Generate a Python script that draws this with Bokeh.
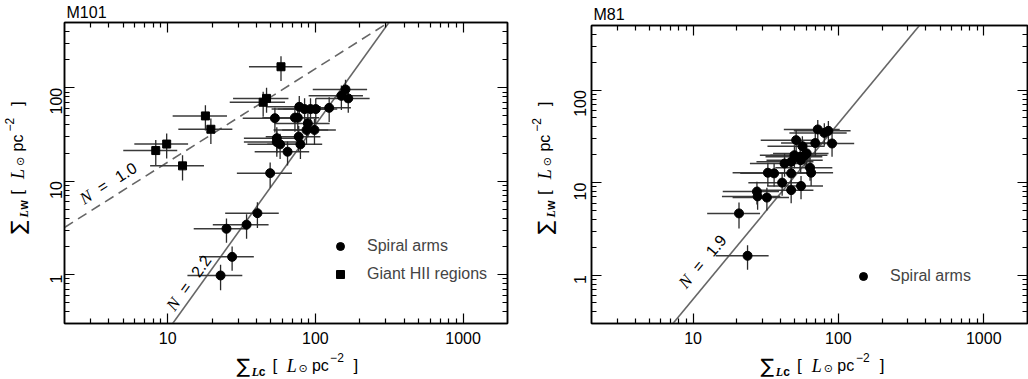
import math
from bokeh.plotting import figure
from bokeh.models import (Range1d, FixedTicker, PrintfTickFormatter, LogAxis, Label,
                          CustomJSTickFormatter, ColumnDataSource)
from bokeh.layouts import row, column
from bokeh.embed import file_html
from bokeh.resources import INLINE

# ---------------- data ----------------
X_RANGE = (2, 2000)
Y_RANGE = (0.3, 500)
X_MAJOR = [10, 100, 1000]
X_MINOR = [3, 4, 5, 6, 7, 8, 9, 20, 30, 40, 50, 60, 70, 80, 90,
           200, 300, 400, 500, 600, 700, 800, 900]
Y_MAJOR = [1, 10, 100]
Y_MINOR = [0.4, 0.5, 0.6, 0.7, 0.8, 0.9, 2, 3, 4, 5, 6, 7, 8, 9,
           20, 30, 40, 50, 60, 70, 80, 90, 200, 300, 400]

# M101 spiral arms
m101_arm_x = [160, 150, 167, 124, 100.6, 92.7, 84.5, 77.8, 72.7, 76.0, 53.2, 88.9, 98.6,
              87.1, 77.1, 54.8, 54.8, 57.7, 79.2, 64.8, 49.4, 40.5, 34.2, 25.0, 27.3, 22.8]
m101_arm_y = [96, 82, 77, 61, 59.2, 59.2, 59.2, 62.6, 47.9, 47.9, 47.3, 41.6, 35.4,
              35.4, 30.0, 28.9, 26.3, 24.8, 24.8, 20.7, 12.2, 4.55, 3.43, 3.1, 1.55, 0.98]
m101_arm_xerr = [64, 60, 66, 50, 40, 37, 34, 31, 29, 30, 21, 36, 39,
                 35, 31, 22, 22, 23, 32, 26, 20, 16, 14, 10, 11, 9.2]
m101_arm_yerr = [26, 24, 23, 18, 18, 18, 18, 19, 14, 14, 14, 12, 11,
                 11, 9, 9, 8, 7.5, 7.5, 6, 3.7, 1.4, 1.0, 0.9, 0.45, 0.3]

# M101 giant HII regions
m101_hii_x = [58.5, 46.7, 44.3, 18.0, 19.6, 9.84, 8.3, 12.6]
m101_hii_y = [168, 77, 70, 50, 36, 25, 21.3, 14.6]
m101_hii_xerr = [23, 19, 18, 7.2, 7.8, 3.9, 3.3, 5.0]
m101_hii_yerr = [50, 23, 21, 15, 11, 7.5, 6.4, 4.4]

# M81 spiral arms
m81_arm_x = [72.1, 80, 85.3, 51.2, 69.3, 90.4, 56.5, 60.5, 49.8, 54.5, 59, 42.6, 47.3, 55,
             63.8, 64.9, 47.3, 36.1, 32.7, 41, 55.3, 47.3, 27.5, 27.8, 32.2, 20.7, 23.7]
m81_arm_y = [37.6, 34.5, 36.3, 28.8, 26.8, 26.5, 24.8, 20.7, 19.8, 19.0, 19.8, 16.1, 16.8, 17.5,
             14.5, 12.8, 12.6, 12.6, 12.8, 10.0, 9.2, 8.3, 8.0, 7.1, 6.9, 4.65, 1.62]
m81_arm_xerr = [30, 34, 36, 22, 29, 38, 24, 25, 21, 23, 25, 18, 20, 23,
                27, 27, 20, 15, 14, 17, 23, 20, 11.5, 12, 13.5, 8.2, 9.4]
m81_arm_yerr = [10, 9.5, 10, 8, 7.5, 7.5, 7, 6, 5.5, 5.3, 5.5, 4.5, 4.7, 4.9,
                4, 3.6, 3.5, 3.5, 3.6, 2.8, 2.6, 2.3, 2.2, 2, 1.9, 1.45, 0.48]

# power-law fits  Sigma_W = 10**logA * Sigma_C**N
M101_ARM_FIT = (2.2, -2.797)
M101_HII_FIT = (1.0, 0.204)
M81_ARM_FIT = (1.9, -2.16)

FONT = "Liberation Sans"
TOTAL_H = 379


def axis_pieces(sub):
    # (text, offset along label, offset above baseline, font, size, style)
    return [
        ("\u2211", -1, 0, "DejaVu Sans", "20px", "normal"),
        ("L", 15.6, -6, "Liberation Serif", "12px", "bold italic"),
        (sub, 23.5, -6, FONT, "12px", "bold"),
        ("[", 38.3, 0, FONT, "17px", "normal"),
        ("L", 54, 0, "Liberation Serif", "18px", "italic"),
        ("\u2299", 67, -3, "DejaVu Sans", "11px", "normal"),
        ("pc", 81.6, 0, FONT, "16px", "normal"),
        ("\u22122", 101.5, 8, FONT, "12px", "normal"),
        ("]", 127, 0, FONT, "17px", "normal"),
    ]


def text_fig(w, h):
    f = figure(width=w, height=h, x_range=Range1d(0, w), y_range=Range1d(0, h),
               x_axis_location=None, y_axis_location=None, toolbar_location=None,
               output_backend="svg", min_border=0, title=None)
    f.grid.visible = False
    f.outline_line_color = None
    f.background_fill_color = "white"
    f.border_fill_color = "white"
    return f


def xlabel_fig(w, h, start_x, base_y, sub):
    f = text_fig(w, h)
    for txt, a, q, font, size, style in axis_pieces(sub):
        f.add_layout(Label(x=start_x + a, y=base_y + q, text=txt,
                           text_align="left", text_baseline="alphabetic",
                           text_font=font, text_font_size=size, text_font_style=style,
                           text_color="black"))
    return f


def ylabel_fig(w, h, base_x, start_y, sub):
    f = text_fig(w, h)
    for txt, a, q, font, size, style in axis_pieces(sub):
        f.add_layout(Label(x=base_x - q, y=start_y + a, text=txt, angle=math.pi / 2,
                           text_align="left", text_baseline="alphabetic",
                           text_font=font, text_font_size=size, text_font_style=style,
                           text_color="black"))
    return f


def style_axis(ax, major, minor, labels=True, vertical=False, standoff=8):
    ax.ticker = FixedTicker(ticks=major, minor_ticks=minor)
    ax.axis_line_color = "black"
    ax.axis_line_width = 1.5
    ax.major_tick_in = 10
    ax.major_tick_out = 0
    ax.minor_tick_in = 5
    ax.minor_tick_out = 0
    ax.major_tick_line_color = "black"
    ax.minor_tick_line_color = "black"
    ax.major_tick_line_width = 1.2
    ax.minor_tick_line_width = 1.2
    if labels:
        ax.formatter = PrintfTickFormatter(format="%d")
        ax.major_label_text_font = FONT
        ax.major_label_text_font_size = "16px"
        ax.major_label_text_color = "black"
        ax.major_label_standoff = standoff
        if vertical:
            ax.major_label_orientation = math.pi / 2
    else:
        ax.formatter = CustomJSTickFormatter(code="return ''")
        ax.major_label_text_font_size = "0px"
        ax.major_label_standoff = 0


def make_panel(title, width, height, b_left, b_right, b_top, b_bottom, title_standoff,
               series, fits, fit_labels, legend_loc, ystandoff):
    p = figure(width=width, height=height, x_axis_type="log", y_axis_type="log",
               x_range=Range1d(*X_RANGE), y_range=Range1d(*Y_RANGE),
               output_backend="svg", toolbar_location=None, title=title,
               min_border_left=b_left, min_border_right=b_right,
               min_border_top=b_top, min_border_bottom=b_bottom)
    p.title.text_font = FONT
    p.title.text_font_size = "16px"
    p.title.text_font_style = "normal"
    p.title.text_color = "black"
    p.title.align = "left"
    p.title.offset = 2
    p.title.standoff = title_standoff
    p.grid.visible = False
    p.outline_line_color = "black"
    p.outline_line_width = 1.5
    p.background_fill_color = "white"
    p.border_fill_color = "white"

    style_axis(p.xaxis[0], X_MAJOR, X_MINOR, standoff=8)
    style_axis(p.yaxis[0], Y_MAJOR, Y_MINOR, vertical=True, standoff=ystandoff)
    top = LogAxis()
    style_axis(top, X_MAJOR, X_MINOR, labels=False)
    p.add_layout(top, "above")
    right = LogAxis()
    style_axis(right, Y_MAJOR, Y_MINOR, labels=False)
    p.add_layout(right, "right")

    # fit lines
    for (n, loga), dash in fits:
        xs = [X_RANGE[0], X_RANGE[1]]
        ys = [10 ** loga * x ** n for x in xs]
        p.line(xs, ys, line_color="#666666", line_width=1.6,
               line_dash=dash if dash else "solid")

    # data with error bars
    for xs, ys, xe, ye, marker, msize, name in series:
        src = ColumnDataSource(dict(
            x=xs, y=ys,
            xlo=[a - b for a, b in zip(xs, xe)], xhi=[a + b for a, b in zip(xs, xe)],
            ylo=[a - b for a, b in zip(ys, ye)], yhi=[a + b for a, b in zip(ys, ye)]))
        p.segment(x0="xlo", y0="y", x1="xhi", y1="y", source=src,
                  line_color="#3a3a3a", line_width=1.5)
        p.segment(x0="x", y0="ylo", x1="x", y1="yhi", source=src,
                  line_color="#2a2a2a", line_width=1.3)
        p.scatter(x="x", y="y", source=src, marker=marker, size=msize,
                  fill_color="black", line_color="black", legend_label=name)

    p.legend.location = legend_loc
    p.legend.border_line_color = None
    p.legend.background_fill_alpha = 0
    p.legend.padding = 0
    p.legend.margin = 0
    p.legend.spacing = 8
    p.legend.glyph_width = 20
    p.legend.glyph_height = 20
    p.legend.label_height = 20
    p.legend.label_standoff = 17
    p.legend.label_text_font = FONT
    p.legend.label_text_font_size = "16px"

    # N = ... labels along the fit lines
    for (xd, yd), ang_deg, val in fit_labels:
        th = math.radians(ang_deg)
        for txt, d, font, size, style in [("N", -20, "Liberation Serif", "17px", "italic"),
                                          ("=", 0, FONT, "16px", "normal"),
                                          (val, 27, FONT, "16px", "normal")]:
            p.add_layout(Label(x=xd, y=yd, x_offset=d * math.cos(th), y_offset=d * math.sin(th),
                               text=txt, angle=th, text_align="center", text_baseline="middle",
                               text_font=font, text_font_size=size, text_font_style=style,
                               text_color="black"))
    return p


# ---------------- left panel (M101) ----------------
p1 = make_panel("M101", 485, 351, 34, 8, 21, 28, 3,
                [(m101_arm_x, m101_arm_y, m101_arm_xerr, m101_arm_yerr, "circle", 9, "Spiral arms"),
                 (m101_hii_x, m101_hii_y, m101_hii_xerr, m101_hii_yerr, "square", 8, "Giant HII regions")],
                [(M101_HII_FIT, "10 6"), (M101_ARM_FIT, None)],
                [((3.634, 8.78), 32.6, "1.0"), ((13.12, 0.721), 54.6, "2.2")],
                (266, 38.7), 8)
xl1 = xlabel_fig(485, 28, 189.3, 14, "c")
yl1 = ylabel_fig(30, TOTAL_H, 17, 146.5, "w")

# ---------------- right panel (M81) ----------------
p2 = make_panel("M81", 468, 351, 31, 1, 25, 28, 5,
                [(m81_arm_x, m81_arm_y, m81_arm_xerr, m81_arm_yerr, "circle", 9, "Spiral arms")],
                [(M81_ARM_FIT, None)],
                [((10.9, 1.25), 50.3, "1.9")],
                (262, 37), 11)
xl2 = xlabel_fig(468, 28, 182.3, 14, "c")
yl2 = ylabel_fig(45, TOTAL_H, 29, 146.3, "w")

layout = row(yl1, column(p1, xl1), yl2, column(p2, xl2))
open("out.html", "w").write(file_html(layout, INLINE))
